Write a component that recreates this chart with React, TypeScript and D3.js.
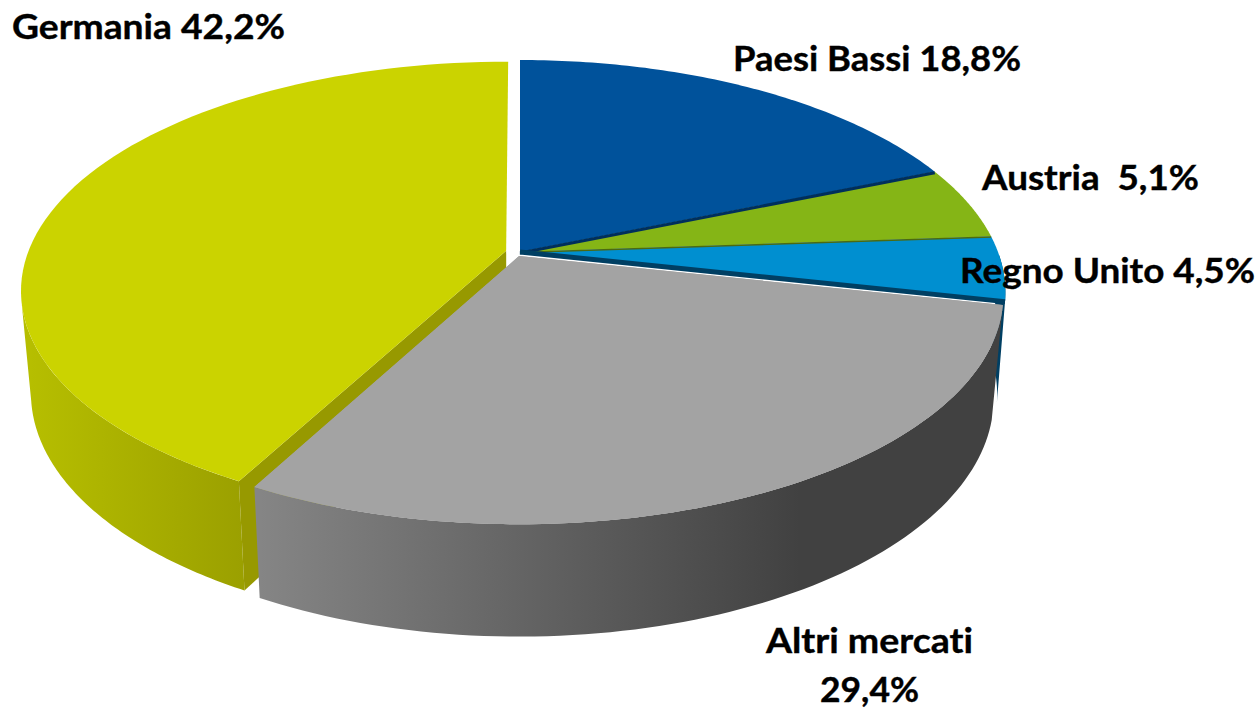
import React from "react";
import * as d3 from "d3";

const categories = ["Paesi Bassi", "Austria", "Regno Unito", "Altri mercati", "Germania"];
const shares = [18.8, 5.1, 4.5, 29.4, 42.2];
const topColors = ["#00529b", "#85b516", "#008fd0", "#a3a3a3", "#cbd300"];

const W = 1260, H = 709;
const cx = 520, cy = 252, a = 478, b = 225.4, k = 0.174;
const bottomCy = 352.5, bottomB = 234;

// per-slice placement on the pie plane: radial scale x/y, shift x/y, lower-rim scale and drop
const placement: Record<string, { rx: number; ry: number; dx: number; dy: number; bs: number; by: number }> = {
  "Paesi Bassi": { rx: 1, ry: 1, dx: 0, dy: 0, bs: 0.98, by: 0 },
  Austria: { rx: 1, ry: 1, dx: 0, dy: 0, bs: 0.98, by: 0 },
  "Regno Unito": { rx: 1, ry: 1, dx: 0, dy: 0, bs: 0.983, by: 0 },
  "Altri mercati": { rx: 0.995, ry: 0.98, dx: -0.002, dy: 0.018, bs: 0.98, by: 1.5 },
  Germania: { rx: 1, ry: 0.985, dx: -0.029, dy: -0.005, bs: 0.98, by: 0 },
};

const arcs = d3.pie<number>().sort(null).value((d) => d)(shares);

type Pt = [number, number];
function plane(cat: string, t: number, r = 1): Pt {
  const p = placement[cat];
  return [r * p.rx * Math.sin(t) + p.dx, -r * p.ry * Math.cos(t) + p.dy];
}
function top(cat: string, t: number, r = 1): Pt {
  const [X, Y] = plane(cat, t, r);
  const w = 1 - k * Y;
  return [cx + (a * X) / w, cy + (b * Y) / w];
}
function bot(cat: string, t: number, r = 1): Pt {
  const [X, Y] = plane(cat, t, r);
  const p = placement[cat];
  const w = 1 - k * Y;
  return [cx + (p.bs * a * X) / w, bottomCy + p.by + (bottomB * Y) / w];
}
const line = d3.line<Pt>();
const samples = (t0: number, t1: number, n = 80) =>
  d3.range(n + 1).map((i) => t0 + ((t1 - t0) * i) / n);

function topPath(i: number) {
  const cat = categories[i];
  const s = arcs[i];
  const pts: Pt[] = [top(cat, 0, 0), ...samples(s.startAngle, s.endAngle).map((t) => top(cat, t))];
  return line(pts) + "Z";
}
function sidePath(i: number, t0: number, t1: number, lowerStartShift = 0) {
  const cat = categories[i];
  const pts: Pt[] = [
    ...samples(t0, t1).map((t) => top(cat, t)),
    ...samples(t0 + lowerStartShift, t1).reverse().map((t) => bot(cat, t)),
  ];
  return line(pts) + "Z";
}
function wallPath(i: number, t: number) {
  const cat = categories[i];
  const pts: Pt[] = [top(cat, 0, 0), top(cat, t), bot(cat, t), bot(cat, 0, 0)];
  return line(pts) + "Z";
}
function edgeLine(i: number, t: number, off: number) {
  const cat = categories[i];
  const pts: Pt[] = [top(cat, 0, 0), top(cat, t)].map((p) => [p[0], p[1] + off] as Pt);
  return line(pts) ?? "";
}

const labels = [
  { text: "Germania 42,2%", x: 12, y: 39, w: 273 },
  { text: "Paesi Bassi 18,8%", x: 733, y: 71, w: 288 },
  { text: "Austria  5,1%", x: 982, y: 190, w: 217 },
  { text: "Regno Unito 4,5%", x: 960, y: 283, w: 295 },
  { text: "Altri mercati", x: 766, y: 653, w: 207 },
  { text: "29,4%", x: 820, y: 702, w: 99 },
];

export default function App() {
  const [, , reg, altri, germ] = arcs;
  return (
    <svg
      width={W}
      height={H}
      viewBox={`0 0 ${W} ${H}`}
      style={{ position: "fixed", left: 0, top: 0, background: "#fff" }}
    >
      <defs>
        <linearGradient id="gSide" gradientUnits="userSpaceOnUse" x1={30} x2={250} y1={0} y2={0}>
          <stop offset="0" stopColor="#b6be00" />
          <stop offset="1" stopColor="#9a9f00" />
        </linearGradient>
        <linearGradient id="aSide" gradientUnits="userSpaceOnUse" x1={260} x2={800} y1={0} y2={0}>
          <stop offset="0" stopColor="#858585" />
          <stop offset="1" stopColor="#414141" />
        </linearGradient>
      </defs>

      <path d={sidePath(4, germ.startAngle, germ.startAngle + 0.87)} fill="url(#gSide)" />
      <path d={wallPath(4, germ.startAngle)} fill="#979900" />
      <path d={sidePath(2, reg.endAngle - 0.2, reg.endAngle)} fill="#003f63" />
      <path d={sidePath(3, altri.startAngle, altri.endAngle, 0.045)} fill="url(#aSide)" />

      {arcs.map((_, i) => (
        <path key={categories[i]} d={topPath(i)} fill={topColors[i]} />
      ))}

      <path d={edgeLine(0, arcs[0].endAngle, 1)} stroke="#002f5c" strokeWidth={3} fill="none" />
      <path d={edgeLine(1, arcs[1].endAngle, 0.5)} stroke="#4c6a10" strokeWidth={1.5} fill="none" />
      <path d={edgeLine(2, arcs[2].endAngle, 0)} stroke="#003f63" strokeWidth={5} fill="none" />
      <path d={topPath(3)} fill={topColors[3]} />

      {labels.map((l) => (
        <text
          key={l.text}
          x={l.x}
          y={l.y}
          textLength={l.w}
          lengthAdjust="spacingAndGlyphs"
          xmlSpace="preserve"
          fontFamily="Lato, 'Open Sans', sans-serif"
          fontWeight={700}
          fontSize={35}
          fill="#000"
          stroke="#000"
          strokeWidth={0.4}
          style={{ fontVariantLigatures: "none" }}
        >
          {l.text}
        </text>
      ))}
    </svg>
  );
}
